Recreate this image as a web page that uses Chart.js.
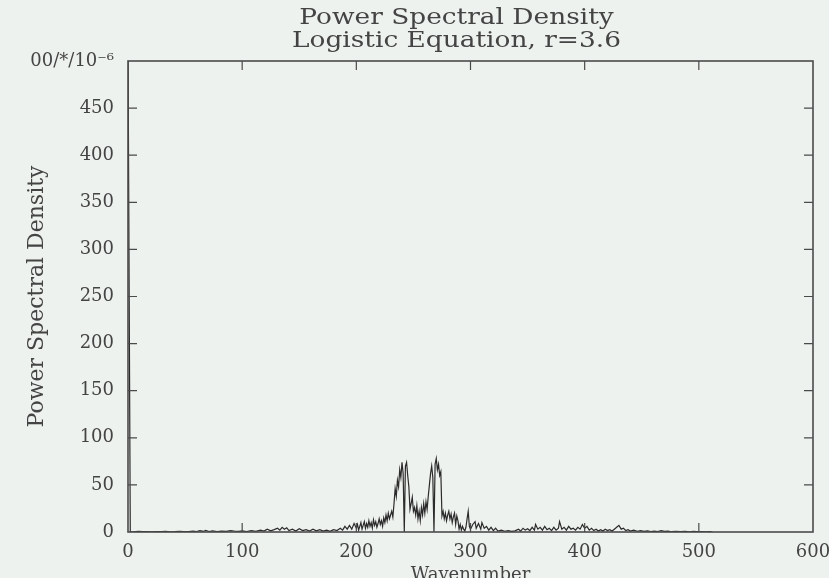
<!DOCTYPE html>
<html>
<head>
<meta charset="utf-8">
<script src="https://cdn.jsdelivr.net/npm/chart.js@4.4.1/dist/chart.umd.min.js"></script>
<style>
  html, body { margin: 0; padding: 0; background: #eef2ee; }
  #wrap { width: 829px; height: 578px; }
</style>
</head>
<body>
<div id="wrap"><canvas id="grafico" width="829" height="578"></canvas></div>
<script>
// values (wavenumber, PSD in units of 1e-6)
const wavenumber = [
  0, 2, 5, 9, 13, 17, 21, 25, 29, 33, 37, 41, 45, 49, 53, 57, 60, 63, 66, 68,
  71, 74, 78, 82, 86, 90, 94, 97, 100, 104, 108, 112, 116, 119, 122, 125, 128, 131, 133, 135,
  137, 139, 141, 144, 147, 150, 153, 156, 159, 162, 165, 168, 171, 174, 177, 180, 183, 186, 188, 190,
  192, 194, 196, 198,
  200, 201, 202, 203, 204, 205, 206, 207, 208, 209, 210, 211, 212, 213, 214, 215, 216, 217, 218, 219,
  220, 221, 222, 223, 224, 225, 226, 227, 228, 229, 230, 231, 232, 233, 234, 235, 236, 237, 238, 239,
  240, 241, 242, 243, 244, 245, 246, 247, 248, 249, 250, 251, 252, 253, 254, 255, 256, 257, 258, 259,
  260, 261, 262, 263, 264, 265, 266, 267, 268, 269, 270, 271, 272, 273, 274, 275, 276, 277, 278, 279,
  280, 281, 282, 283, 284, 285, 286, 287, 288, 289, 290, 291, 292, 293, 294, 295, 296, 297, 298, 299,
  300, 302, 304, 305, 307, 309, 310, 312, 314, 316, 318, 320, 322, 324, 327, 330, 333, 336, 339, 342,
  344, 346, 348, 350, 352, 354, 356, 357, 359, 361, 363, 365, 367, 369, 371, 373, 375, 377, 378, 380,
  382, 384, 386, 388, 390, 392, 394, 396, 398, 400, 402, 404, 406, 408, 410, 412, 414, 416, 418, 420,
  422, 424, 426, 428, 430, 432, 434, 436, 438, 440, 443, 446, 449, 452, 455, 458, 461, 464, 467, 470,
  473, 476, 480, 484, 488, 492, 495, 498, 502, 506, 510, 512
];
const psd = [
  520, 0.5, 0.2, 0.6, 0.3, 0.4, 0.2, 0.5, 0.3, 0.6, 0.2, 0.4, 0.8, 0.3, 0.5, 1, 0.4, 1.5, 0.6, 1.8,
  0.5, 1.2, 0.4, 1, 0.6, 1.4, 0.8, 0.6, 1.2, 0.5, 1.5, 0.7, 2, 1, 3, 1.2, 2.5, 4, 2, 5,
  3, 4.5, 1.5, 3, 1, 3.5, 1.5, 2.5, 1, 3, 1.2, 2.5, 1, 2, 0.8, 2.5, 1.5, 4, 2, 6,
  3, 7, 3, 9,
  4, 8, 2, 6, 10, 3, 7, 11, 4, 9, 5, 12, 6, 10, 4, 13, 7, 11, 5, 9,
  14, 8, 12, 6, 15, 10, 18, 12, 20, 14, 18, 22, 16, 30, 46, 38, 55, 48, 66, 58,
  74, 62, 0, 70, 74, 60, 48, 24, 30, 37, 22, 26, 18, 28, 14, 22, 12, 26, 18, 30,
  20, 32, 24, 38, 50, 62, 70, 58, 0, 72, 78, 66, 72, 60, 64, 17, 22, 14, 20, 12,
  18, 22, 14, 19, 10, 16, 20, 8, 17, 12, 3, 8, 2, 6, 3, 1, 5, 14, 22, 6,
  3, 8, 11, 4, 9, 3, 10, 4, 6, 2, 5, 1.5, 4, 1, 2, 0.8, 1.5, 0.6, 1.2, 3,
  1, 4, 2, 3.5, 1.5, 5, 2, 8, 3, 5, 2, 6, 2.5, 4, 1.5, 5, 2, 4, 11, 3,
  5, 2, 6, 3, 4, 2, 5, 3, 8, 4, 6, 2, 4, 1.5, 3, 1, 2.5, 1, 3, 1.5,
  2.5, 1, 3, 5, 7, 3, 4, 1.5, 2.5, 1, 2, 0.8, 1.5, 0.6, 1.2, 0.5, 1, 0.4, 1.5, 0.6,
  1, 0.3, 0.8, 0.3, 0.6, 0.2, 0.8, 0.5, 0.4, 0.2, 0.3, 0
];
const xTicks = [0, 100, 200, 300, 400, 500, 600];
const yTicks = [0, 50, 100, 150, 200, 250, 300, 350, 400, 450, 500];
const topLabel = "00/*/10\u207B\u2076";
const titleLines = ["Power Spectral Density", "Logistic Equation, r=3.6"];

const fonte = "'DejaVu Serif', serif";
const cor = "#444";

// background, frame, inward ticks and title
const moldura = {
  id: "moldura",
  beforeDraw(chart) {
    const ctx = chart.ctx;
    ctx.save();
    ctx.fillStyle = "#eef2ee";
    ctx.fillRect(0, 0, chart.width, chart.height);
    ctx.restore();
  },
  afterDatasetsDraw(chart) {
    const { ctx, chartArea, scales } = chart;
    const { left, right, top, bottom } = chartArea;
    ctx.save();
    ctx.strokeStyle = "#4a4a4a";
    ctx.lineWidth = 1.6;
    ctx.strokeRect(left, top, right - left, bottom - top);
    ctx.lineWidth = 1.2;
    ctx.beginPath();
    xTicks.slice(1, -1).forEach(v => {
      const px = scales.x.getPixelForValue(v);
      ctx.moveTo(px, top); ctx.lineTo(px, top + 9);
      ctx.moveTo(px, bottom); ctx.lineTo(px, bottom - 9);
    });
    yTicks.slice(1, -1).forEach(v => {
      const py = scales.y.getPixelForValue(v);
      ctx.moveTo(left, py); ctx.lineTo(left + 9, py);
      ctx.moveTo(right, py); ctx.lineTo(right - 9, py);
    });
    ctx.stroke();

    // title, a bit wider than the plain font like the plotter lettering
    ctx.fillStyle = cor;
    ctx.font = "22px " + fonte;
    ctx.textAlign = "center";
    ctx.textBaseline = "middle";
    const cx = (left + right) / 2 - 14;
    ctx.translate(cx, 0);
    ctx.scale(1.2, 1);
    ctx.fillText(titleLines[0], 0, 18);
    ctx.fillText(titleLines[1], 0, 41);
    ctx.restore();
  }
};

const dados = wavenumber.map((w, i) => ({ x: w, y: psd[i] }));

new Chart(document.getElementById("grafico").getContext("2d"), {
  type: "line",
  data: {
    datasets: [{
      label: "PSD",
      data: dados,
      borderColor: "#2b2b2b",
      borderWidth: 1.2,
      pointRadius: 0,
      tension: 0,
      fill: false
    }]
  },
  options: {
    responsive: false,
    animation: false,
    layout: { padding: { top: 61, right: 16, bottom: -8, left: 0 } },
    plugins: {
      legend: { display: false },
      tooltip: { enabled: false },
      title: { display: false }
    },
    scales: {
      x: {
        type: "linear",
        min: 0,
        max: 600,
        afterBuildTicks: s => { s.ticks = xTicks.map(v => ({ value: v })); },
        grid: { display: false, drawTicks: false },
        border: { display: false },
        ticks: { color: cor, font: { family: fonte, size: 18 }, padding: 10, maxRotation: 0 },
        title: { display: true, text: "Wavenumber", color: cor, font: { family: fonte, size: 18 }, padding: { top: 0, bottom: 0 } },
        afterFit: s => { s.height = 54; s.paddingLeft = 0; s.paddingRight = 0; }
      },
      y: {
        min: 0,
        max: 500,
        afterBuildTicks: s => { s.ticks = yTicks.map(v => ({ value: v })); },
        grid: { display: false, drawTicks: false },
        border: { display: false },
        ticks: {
          color: cor,
          font: { family: fonte, size: 18 },
          padding: 14,
          callback: v => (v === 500 ? topLabel : String(v))
        },
        title: { display: true, text: "Power Spectral Density", color: cor, font: { family: fonte, size: 22 }, padding: { top: 24, bottom: 0 } },
        afterFit: s => { s.width = 128; s.paddingTop = 0; s.paddingBottom = 0; }
      }
    }
  },
  plugins: [moldura]
});
</script>
</body>
</html>
